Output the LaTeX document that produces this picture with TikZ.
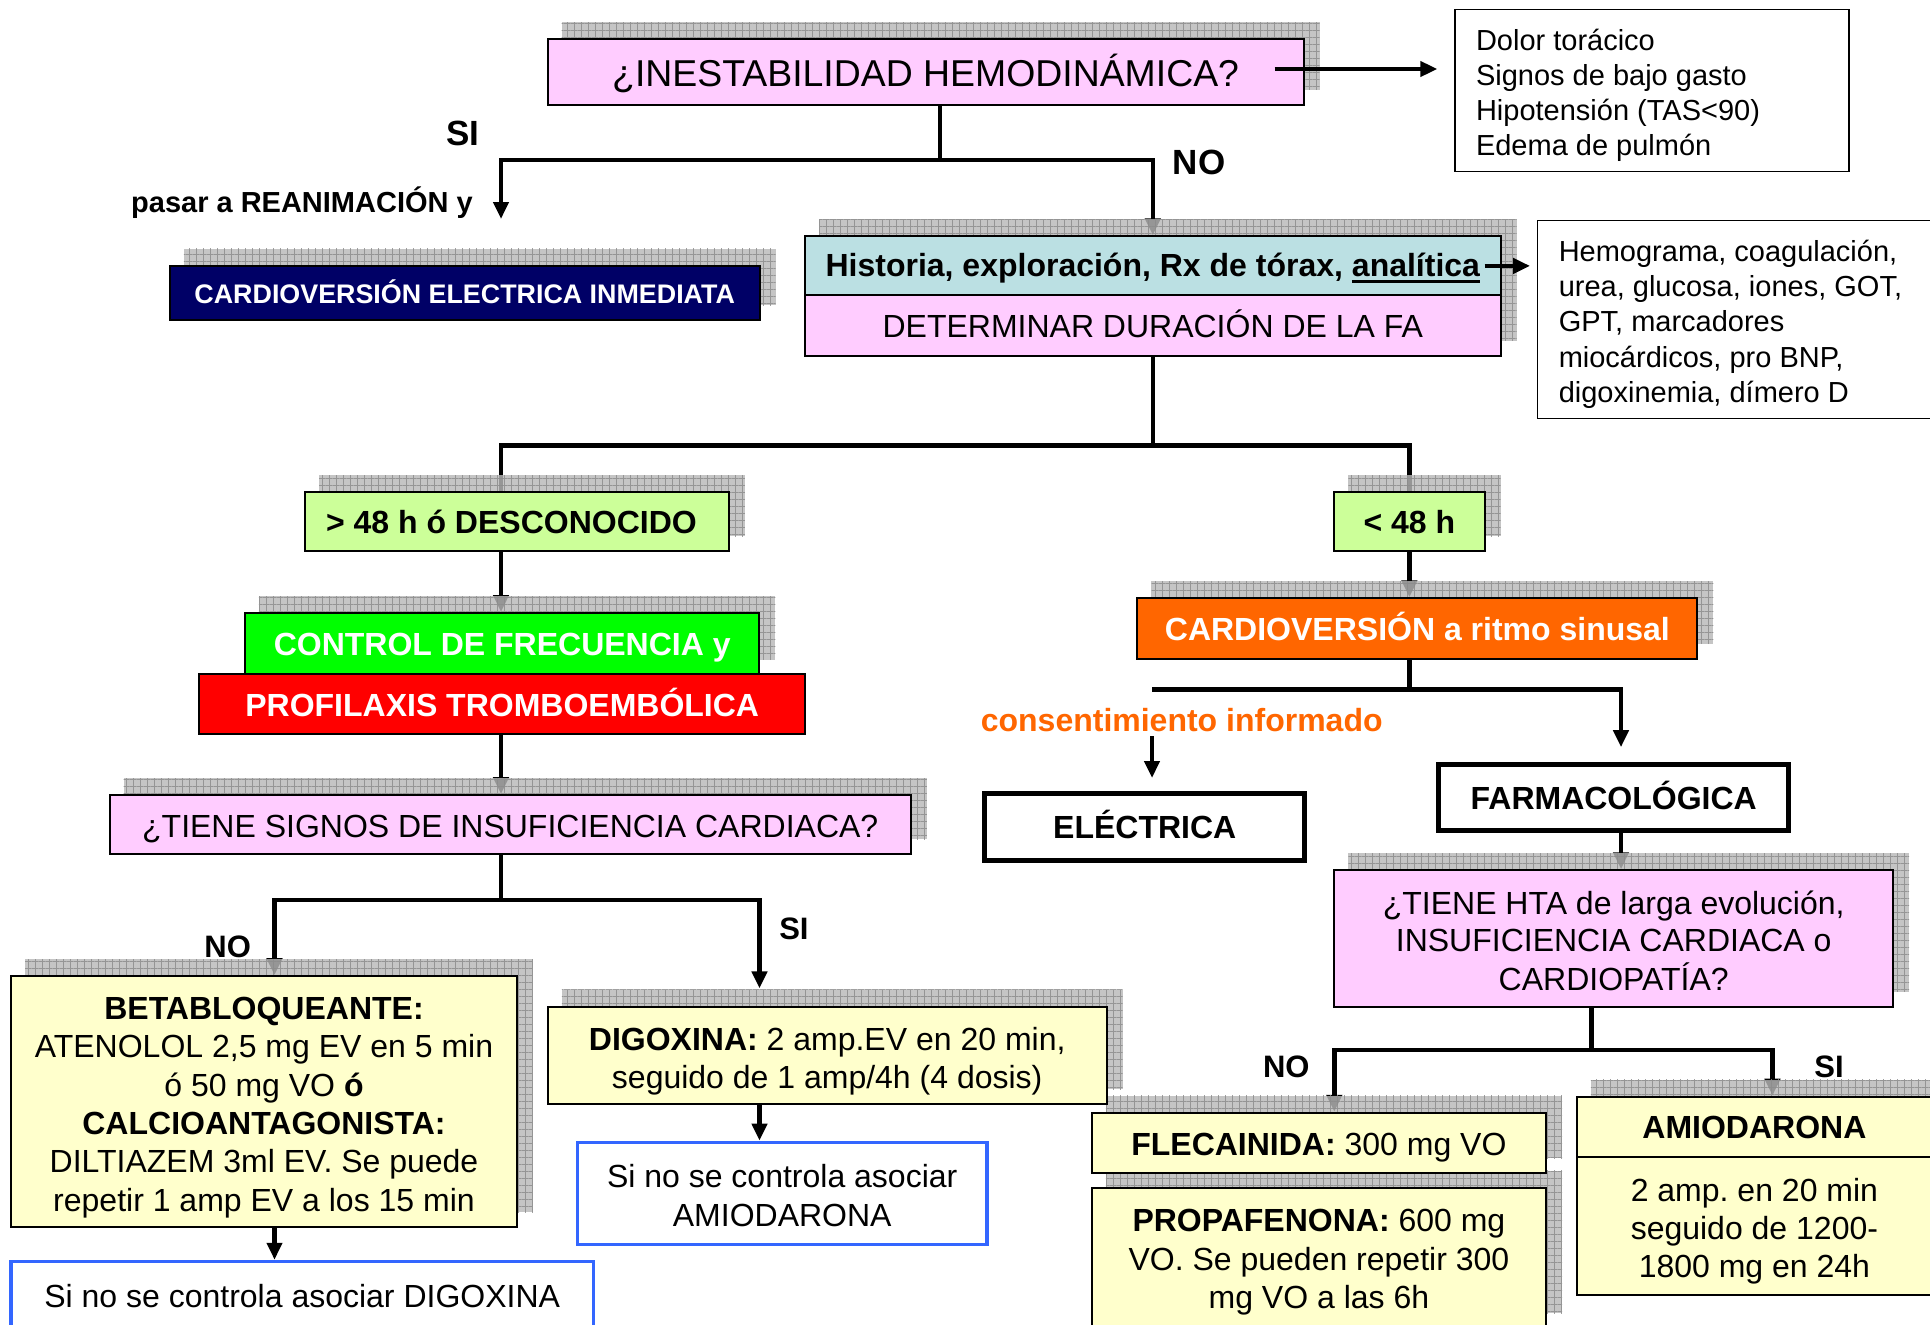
\documentclass[tikz,border=0pt]{standalone}
\usepackage{fontspec}
\setmainfont{Liberation Sans}
\usetikzlibrary{arrows.meta,patterns.meta,calc}
\pgfdeclarelayer{conn}
\pgfdeclarelayer{shad}
\pgfsetlayers{conn,shad,main}

\definecolor{pinkq}{HTML}{FFCCFF}
\definecolor{tealq}{HTML}{BBE0E3}
\definecolor{lgreenq}{HTML}{CCFF99}
\definecolor{yellowq}{HTML}{FFFFCC}
\definecolor{navyq}{HTML}{000066}
\definecolor{orangeq}{HTML}{FF6600}
\definecolor{blueq}{HTML}{3366FF}
\definecolor{greenq}{HTML}{00FF00}
\definecolor{redq}{HTML}{FF0000}

\newcommand\fsz[2]{\fontsize{#1}{#2}\selectfont}
\newcommand\thickul[1]{\setbox0\hbox{#1}\rlap{\rule[-6pt]{\wd0}{3pt}}\box0}
% stacked lines whose capital letters sit centred in the box; #2 moves them down
\newcommand\ctextx[3]{\raisebox{\dimexpr(4\baselineskip/10-\fontcharht\font`H)/2-#2\relax}[\height][\depth]{\begin{tabular}{@{}#1@{}}#3\end{tabular}}}
\newcommand\ctext[1]{\ctextx{c}{0pt}{#1}}
% grey gridded drop shadow behind a rectangle spanned by two node corners
\newcommand\dropshadow[2]{%
  \fill[black!28] ([shift={(15,-16)}]#1.south west) rectangle ([shift={(15,-16)}]#2.north east);
  \fill[pattern={Hatch[distance=7pt,angle=0,line width=0.8pt]},pattern color=black!45]
    ([shift={(15,-16)}]#1.south west) rectangle ([shift={(15,-16)}]#2.north east);}

\tikzset{
  box/.style={draw=black, line width=2pt, inner sep=0pt, font=\fsz{32}{38.4}},
  heavybox/.style={box, fill=white, line width=5pt, font=\bfseries\fsz{32}{38.4}},
  bluebox/.style={box, fill=white, draw=blueq, line width=3.5pt},
  listbox/.style={draw=black, line width=1.4pt, fill=white, inner xsep=21pt, inner ysep=0pt,
    font=\fsz{29}{35.3}},
  lbl/.style={inner sep=0pt, font=\bfseries\fsz{31}{36}},
  conn/.style={line width=4.5pt},
  arrow/.style={conn, -{Triangle[width=15pt,length=17pt]}},
}

\begin{document}
\frenchspacing
\begin{tikzpicture}[x=1pt,y=-1pt]
\useasboundingbox (0,0) rectangle (1930,1325);

% ---------- boxes ----------
\node[box, fill=pinkq, font=\fsz{37.4}{44}, minimum width=755.8pt, minimum height=65.2pt]
  (inest) at (925.6,72) {\ctextx{c}{1pt}{¿INESTABILIDAD HEMODINÁMICA?}};
\node[listbox, minimum height=162.4pt] (dolor) at (1652,90.5)
  {\makebox[352pt][l]{\ctextx{l}{2.5pt}{Dolor torácico\\Signos de bajo gasto\\Hipotensión (TAS<90)\\Edema de pulmón}}};

\node[box, fill=navyq, text=white, font=\bfseries\fsz{26.85}{30}, minimum width=589.6pt, minimum height=54.2pt]
  (cvei) at (464.7,293) {\ctext{CARDIOVERSIÓN ELECTRICA INMEDIATA}};

\node[box, fill=tealq, font=\bfseries\fsz{32}{38.4}, minimum width=695.5pt, minimum height=59.1pt]
  (hist) at (1152.8,265.9) {\ctext{Historia, exploración, Rx de tórax, \thickul{analítica}}};
\node[box, fill=pinkq, minimum width=695.5pt, minimum height=60.3pt]
  (det) at (1152.8,325.6) {\ctext{DETERMINAR DURACIÓN DE LA FA}};
\node[listbox, minimum height=197.6pt] (hemo) at (1741.4,319.5)
  {\makebox[365.3pt][l]{\ctextx{l}{2.5pt}{Hemograma, coagulación,\\urea, glucosa, iones, GOT,\\GPT, marcadores\\miocárdicos, pro BNP,\\digoxinemia, dímero D}}};

\node[box, fill=lgreenq, font=\bfseries\fsz{32}{38.4}, minimum width=423.7pt, minimum height=59pt]
  (gt48) at (516.9,521.9) {\ctextx{c}{1pt}{> 48 h ó DESCONOCIDO\hspace*{11pt}}};
\node[box, fill=lgreenq, font=\bfseries\fsz{32}{38.4}, minimum width=150.2pt, minimum height=59pt]
  (lt48) at (1409.4,521.9) {\ctextx{c}{1pt}{< 48 h}};

\node[box, fill=greenq, text=white, font=\bfseries\fsz{32}{38.4}, minimum width=514.5pt, minimum height=61.5pt]
  (control) at (502.2,643.8) {\ctextx{c}{1pt}{CONTROL DE FRECUENCIA y}};
\node[box, fill=redq, text=white, font=\bfseries\fsz{32}{38.4}, minimum width=605.6pt, minimum height=59.1pt]
  (prof) at (502.2,704) {\ctextx{c}{1pt}{PROFILAXIS TROMBOEMBÓLICA}};

\node[box, fill=pinkq, minimum width=801.3pt, minimum height=59pt]
  (sig) at (510.2,824.7) {\ctextx{c}{2pt}{¿TIENE SIGNOS DE INSUFICIENCIA CARDIACA?}};

\node[box, fill=yellowq, minimum width=505.9pt, minimum height=251.1pt] (beta) at (264,1101.7)
  {\ctextx{c}{2.5pt}{\textbf{BETABLOQUEANTE:}\\ATENOLOL 2,5 mg EV en 5 min\\ó 50 mg VO \textbf{ó}\\\textbf{CALCIOANTAGONISTA:}\\DILTIAZEM 3ml EV. Se puede\\repetir 1 amp EV a los 15 min}};
\node[bluebox, minimum width=582.2pt, minimum height=69pt] (sidig) at (302.2,1296)
  {\ctext{Si no se controla asociar DIGOXINA}};

\node[box, fill=yellowq, font=\fsz{32}{38.2}, minimum width=558.9pt, minimum height=97.2pt] (digox) at (827.2,1055.5)
  {\ctextx{c}{3pt}{\textbf{DIGOXINA:} 2 amp.EV en 20 min,\\seguido de 1 amp/4h (4 dosis)}};
\node[bluebox, font=\fsz{32}{38.2}, minimum width=409.9pt, minimum height=102.1pt] (siami) at (782.2,1193.4)
  {\ctextx{c}{2.5pt}{Si no se controla asociar\\AMIODARONA}};

\node[box, fill=orangeq, text=white, font=\bfseries\fsz{32}{38.4}, minimum width=560pt, minimum height=60.3pt]
  (card) at (1417.4,628.4) {\ctext{CARDIOVERSIÓN a ritmo sinusal}};
\node[heavybox, minimum width=320pt, minimum height=66.5pt] (elec) at (1144.7,827.2) {\ctext{ELÉCTRICA}};
\node[heavybox, minimum width=349.6pt, minimum height=66.5pt] (farm) at (1613.7,797.6) {\ctext{FARMACOLÓGICA}};

\node[box, fill=pinkq, font=\fsz{32}{37.5}, minimum width=558.8pt, minimum height=136.7pt] (hta) at (1613.7,938.6)
  {\ctextx{c}{3pt}{¿TIENE HTA de larga evolución,\\INSUFICIENCIA CARDIACA o\\CARDIOPATÍA?}};

\node[box, fill=yellowq, minimum width=454.2pt, minimum height=60.3pt] (flec) at (1318.9,1142.9)
  {\ctextx{c}{2pt}{\textbf{FLECAINIDA:} 300 mg VO}};
\node[box, fill=yellowq, font=\fsz{32}{38.2}, minimum width=454.2pt, minimum height=140.4pt] (prop) at (1318.9,1258)
  {\ctextx{c}{1pt}{\textbf{PROPAFENONA:} 600 mg\\VO. Se pueden repetir 300\\mg VO a las 6h}};
\node[box, fill=yellowq, font=\bfseries\fsz{32}{38.4}, minimum width=355.2pt, minimum height=60.6pt]
  (amioh) at (1754.4,1127) {\ctext{AMIODARONA}};
\node[box, fill=yellowq, font=\fsz{32}{38.2}, minimum width=355.2pt, minimum height=137.6pt] (amiob) at (1754.4,1226.1)
  {\ctextx{c}{2.5pt}{2 amp. en 20 min\\seguido de 1200-\\1800 mg en 24h}};

% ---------- free labels ----------
\node[lbl, font=\bfseries\fsz{35}{40}] (si1) at (463,133) {SI};
\node[lbl, font=\bfseries\fsz{35}{40}] (no1) at (1199,162.5) {NO};
\node[lbl, font=\bfseries\fsz{29}{34}, anchor=east] (reanim) at (473,203) {pasar a REANIMACIÓN y};
\node[lbl, text=orangeq, font=\bfseries\fsz{32}{38}] (consent) at (1181.7,720) {consentimiento informado};
\node[lbl] (no2) at (227.7,946.6) {NO};
\node[lbl] (si2) at (793.9,929.3) {SI};
\node[lbl] (no3) at (1286.3,1067.2) {NO};
\node[lbl] (si3) at (1829,1067.2) {SI};

% ---------- shadows ----------
\begin{pgfonlayer}{shad}
\begin{scope}[opacity=0.82]
\dropshadow{inest}{inest}
\dropshadow{cvei}{cvei}
\dropshadow{det}{hist}
\dropshadow{gt48}{gt48}
\dropshadow{lt48}{lt48}
\dropshadow{control}{control}
\dropshadow{sig}{sig}
\dropshadow{beta}{beta}
\dropshadow{digox}{digox}
\dropshadow{card}{card}
\dropshadow{hta}{hta}
\dropshadow{flec}{flec}
\dropshadow{prop}{prop}
\dropshadow{amiob}{amioh}
\end{scope}
\end{pgfonlayer}

% ---------- junction points and free ends ----------
\coordinate (j1) at (940,160);
\coordinate (reanimtip) at (501,219);
\coordinate (xl) at (501,0);
\coordinate (j2) at (1152.8,445.6);
\coordinate (j3) at (501,899.8);
\coordinate (xb) at (274.5,0);
\coordinate (sitip) at (759.5,988.4);
\coordinate (xd) at (759.5,0);
\coordinate (j4) at (1409.4,689.3);
\coordinate (cl) at (1152,689.3);
\coordinate (ca) at (1152,736);
\coordinate (electip) at (1152,778);
\coordinate (farmtip) at (1621,747.2);
\coordinate (xf) at (1621,0);
\coordinate (j5) at (1591.6,1050);
\coordinate (xfl) at (1334.3,0);
\coordinate (xam) at (1772.5,0);

% ---------- connectors ----------
\begin{pgfonlayer}{conn}
\draw[conn] (inest.south -| j1) -- (j1);
\draw[arrow] (j1) -| (hist.north);
\draw[arrow] (j1) -| (reanimtip);

\draw[conn] (det.south) -- (j2);
\draw[conn] (j2) -| (xl |- gt48.north);
\draw[conn] (j2) -| (lt48.north);

\draw[arrow] (xl |- gt48.south) -- (xl |- control.north);
\draw[arrow] (xl |- prof.south) -- (xl |- sig.north);
\draw[conn] (xl |- sig.south) -- (j3);
\draw[arrow] (j3) -| (xb |- beta.north);
\draw[arrow] (j3) -| (sitip);
\draw[arrow] (xb |- beta.south) -- (xb |- sidig.north);
\draw[arrow] (xd |- digox.south) -- (xd |- siami.north);

\draw[arrow] (lt48.south) -- (lt48.south |- card.north);
\draw[conn] (lt48.south |- card.south) -- (j4);
\draw[conn] (cl) -- (j4);
\draw[arrow] (j4) -| (farmtip);
\draw[arrow] (ca) -- (electip);
\draw[arrow] (xf |- farm.south) -- (xf |- hta.north);
\draw[conn] (hta.south -| j5) -- (j5);
\draw[arrow] (j5) -| (xfl |- flec.north);
\draw[arrow] (j5) -| (xam |- amioh.north);
\end{pgfonlayer}

\draw[arrow] ($(inest.east)+(-30,-3)$) -- ($(dolor.west |- inest.east)+(-17,-3)$);
\draw[arrow] ($(hist.east)+(-17,0)$) -- ($(hemo.west |- hist.east)+(-7,0)$);
\end{tikzpicture}
\end{document}
